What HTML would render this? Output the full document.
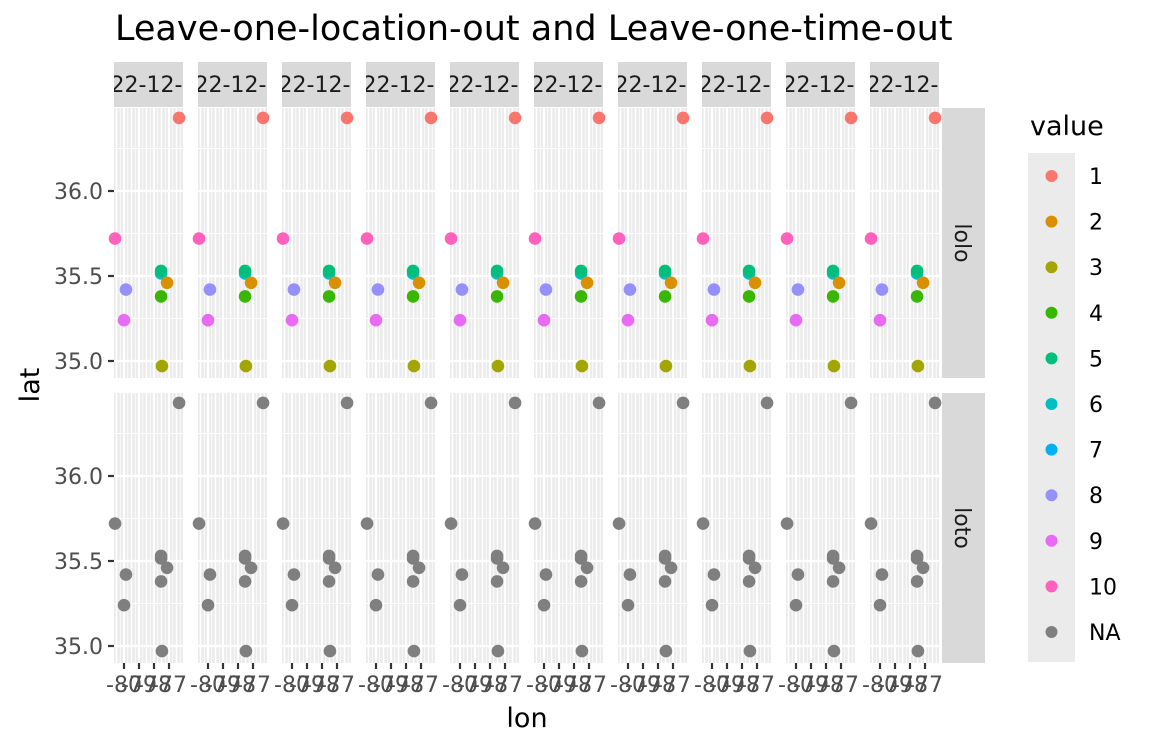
<!DOCTYPE html>
<html><head><meta charset="utf-8"><style>
body{margin:0;background:#fff;}
svg{display:block;font-family:"DejaVu Sans","Liberation Sans",sans-serif;}
</style></head><body>
<svg id="c" width="1152" height="748" xmlns="http://www.w3.org/2000/svg">
<text x="115" y="40" font-size="35" fill="#000">Leave-one-location-out and Leave-one-time-out</text>
<text x="527" y="727" font-size="27" text-anchor="middle">lon</text>
<text transform="translate(39,385) rotate(-90)" font-size="27" text-anchor="middle">lat</text>
</svg>
<script>
const categories=["1","2","3","4","5","6","7","8","9","10","NA"];
const colors=["#F8766D","#D89000","#A3A500","#39B600","#00BF7D","#00BFC4","#00B0F6","#9590FF","#E76BF3","#FF62BC","#7F7F7F"];
const pointValues=[1,10,6,5,2,8,4,9,3];
const pointLon=[-76.33,-80.6,-77.53,-77.53,-77.13,-79.87,-77.53,-80.0,-77.47];
const pointLat=[36.43,35.72,35.515,35.53,35.46,35.42,35.38,35.24,34.97];
const yTicks=[35.0,35.5,36.0];
const yTickLabels=["35.0","35.5","36.0"];
const xTicks=[-80,-79,-78,-77];
const xTickLabels=["-80","-79","-78","-77"];
const rows=["lolo","loto"];
const nPanels=10;
const NS="http://www.w3.org/2000/svg";
const svg=document.getElementById('c');
function mk(t,a,p){const e=document.createElementNS(NS,t);for(const k in a)e.setAttribute(k,a[k]);(p||svg).appendChild(e);return e;}
const pw=69,pstep=84,px0=114;
const rowTop=[108,393],ph=270;
const lonMin=-80.667,lonScale=15;
function xs(i,lon){return px0+i*pstep+(lon-lonMin)*lonScale;}
function ys(r,lat){return rowTop[r]+83+(36-lat)*170;}
for(let i=0;i<nPanels;i++){
  const g=mk('g',{});
  
  
  mk('rect',{x:px0+i*pstep,y:62,width:pw,height:45,fill:'#D9D9D9'},g);
  const cp=mk('clipPath',{id:'cp'+i},g);
  mk('rect',{x:px0+i*pstep,y:62,width:pw,height:45},cp);
  const t=mk('text',{x:px0+i*pstep+pw/2-2,y:92,'font-size':22,fill:'#1A1A1A','text-anchor':'middle','clip-path':'url(#cp'+i+')'},g);
  t.textContent='2022-12-01';
}
for(let r=0;r<2;r++){
  for(let i=0;i<nPanels;i++){
    const g=mk('g',{});
    
    
    const x0=px0+i*pstep;
    mk('rect',{x:x0,y:rowTop[r],width:pw,height:ph,fill:'#EBEBEB'},g);
    for(let v=-80.5;v<=-76;v+=1){const x=xs(i,v);if(x>x0&&x<x0+pw)mk('line',{x1:x,x2:x,y1:rowTop[r],y2:rowTop[r]+ph,stroke:'#fff','stroke-width':1.5},g);}
    for(let v=-80.75;v<=-76;v+=0.25){const x=xs(i,v);if(x>x0&&x<x0+pw&&Math.abs(v*2-Math.round(v*2))>0.01)mk('line',{x1:x,x2:x,y1:rowTop[r],y2:rowTop[r]+ph,stroke:'#fff','stroke-width':0.8},g);}
    for(const v of xTicks){const x=xs(i,v);mk('line',{x1:x,x2:x,y1:rowTop[r],y2:rowTop[r]+ph,stroke:'#fff','stroke-width':2.2},g);}
    for(const v of [35.25,35.75,36.25])mk('line',{x1:x0,x2:x0+pw,y1:ys(r,v),y2:ys(r,v),stroke:'#fff','stroke-width':1},g);
    for(const v of yTicks)mk('line',{x1:x0,x2:x0+pw,y1:ys(r,v),y2:ys(r,v),stroke:'#fff','stroke-width':2.2},g);
    for(let k=0;k<pointLon.length;k++){
      const c=mk('circle',{cx:xs(i,pointLon[k]),cy:ys(r,pointLat[k]),r:6.3,fill:r===0?colors[pointValues[k]-1]:colors[10]},g);
      
      
    }
  }
  const sg=mk('g',{});
  
  
  mk('rect',{x:942,y:rowTop[r],width:43,height:ph,fill:'#D9D9D9'},sg);
  const st=mk('text',{transform:'translate(955,'+(rowTop[r]+ph/2)+') rotate(90)','font-size':22,fill:'#1A1A1A','text-anchor':'middle'},sg);
  st.textContent=rows[r];
  yTicks.forEach((v,j)=>{
    const y=ys(r,v);
    mk('line',{x1:108,x2:114,y1:y,y2:y,stroke:'#333','stroke-width':2.2});
    const t=mk('text',{x:103,y:y+8,'font-size':22,fill:'#4D4D4D','text-anchor':'end'});
    
    
    t.textContent=yTickLabels[j];
  });
}
for(let i=0;i<nPanels;i++){
  xTicks.forEach((v,j)=>{
    const x=xs(i,v);
    mk('line',{x1:x,x2:x,y1:663,y2:669,stroke:'#333','stroke-width':2.2});
    const t=mk('text',{x:x,y:692,'font-size':22,fill:'#4D4D4D','text-anchor':'middle'});
    
    
    t.textContent=xTickLabels[j];
  });
}
const lg=mk('g',{});


const lt=mk('text',{x:1030,y:135,'font-size':27},lg);lt.textContent='value';
mk('rect',{x:1028,y:153,width:47,height:509,fill:'#EBEBEB'},lg);
categories.forEach((c,j)=>{
  const y=176+j*45.6;
  const e=mk('g',{},lg);
  
  
  mk('circle',{cx:1051.5,cy:y,r:6,fill:colors[j]},e);
  const t=mk('text',{x:1089,y:y+8,'font-size':22,fill:'#000'},e);t.textContent=c;
});
</script>
</body></html>
